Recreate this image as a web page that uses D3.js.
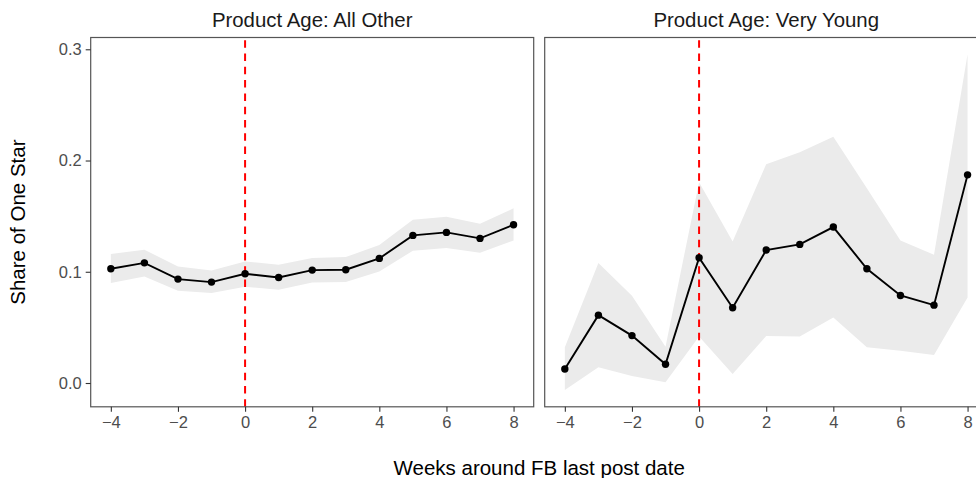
<!DOCTYPE html>
<html>
<head>
<meta charset="utf-8">
<script src="https://cdn.jsdelivr.net/npm/d3@7"></script>
<style>
  html, body { margin: 0; padding: 0; background: #fff; }
  svg { display: block; font-family: "Liberation Sans", Arial, Helvetica, sans-serif; }
</style>
</head>
<body>
<svg id="chart" width="976" height="478"></svg>
<script>
// Weeks relative to the last Facebook post
const weeks = [-4, -3, -2, -1, 0, 1, 2, 3, 4, 5, 6, 7, 8];

// Product Age: All Other
const otherMean  = [0.1027, 0.1080, 0.0934, 0.0907, 0.0982, 0.0949, 0.1015, 0.1018, 0.1120, 0.1327, 0.1354, 0.1300, 0.1423];
const otherLower = [0.0898, 0.0958, 0.0829, 0.0808, 0.0865, 0.0838, 0.0904, 0.0907, 0.1003, 0.1189, 0.1213, 0.1171, 0.1282];
const otherUpper = [0.1160, 0.1198, 0.1048, 0.1012, 0.1093, 0.1063, 0.1123, 0.1132, 0.1240, 0.1468, 0.1495, 0.1432, 0.1570];

// Product Age: Very Young
const youngMean  = [0.0126, 0.0610, 0.0426, 0.0168, 0.1126, 0.0676, 0.1195, 0.1246, 0.1402, 0.1027, 0.0787, 0.0700, 0.1871];
const youngLower = [-0.0063, 0.0141, 0.0063, 0.0006, 0.0417, 0.0081, 0.0423, 0.0417, 0.0588, 0.0321, 0.0291, 0.0252, 0.0769];
const youngUpper = [0.0321, 0.1078, 0.0784, 0.0327, 0.1805, 0.1273, 0.1967, 0.2075, 0.2213, 0.1750, 0.1282, 0.1153, 0.2955];

const panelTitles = ["Product Age: All Other", "Product Age: Very Young"];
const xTicks = [-4, -2, 0, 2, 4, 6, 8];
const yTicks = [0.0, 0.1, 0.2, 0.3];
const eventWeek = 0;

const panels = [
  { title: panelTitles[0], mean: otherMean, lower: otherLower, upper: otherUpper },
  { title: panelTitles[1], mean: youngMean, lower: youngLower, upper: youngUpper }
];

const svg = d3.select("#chart");

// layout
const panelW = 443, gap = 11;
const panelLeft = 90.7, panelTop = 37.5, panelBottom = 406.8;
const fontFamily = '"Liberation Sans", Arial, Helvetica, sans-serif';

// shared scales with 5% expansion of the data range
const allY = [].concat(otherLower, otherUpper, youngLower, youngUpper, otherMean, youngMean);
const yMin = d3.min(allY), yMax = d3.max(allY);
const yPad = (yMax - yMin) * 0.05;
const y = d3.scaleLinear().domain([yMin - yPad, yMax + yPad]).range([panelBottom, panelTop]);

const xMin = d3.min(weeks), xMax = d3.max(weeks);
const xPad = (xMax - xMin) * 0.05;

const fmtY = d3.format(".1f");
const fmtX = d => (d < 0 ? "\u2212" + Math.abs(d) : String(d));

panels.forEach((p, i) => {
  const px0 = panelLeft + i * (panelW + gap);
  const px1 = px0 + panelW;
  const x = d3.scaleLinear().domain([xMin - xPad, xMax + xPad]).range([px0, px1]);

  const g = svg.append("g");
  const rows = weeks.map((w, k) => ({ w, m: p.mean[k], lo: p.lower[k], hi: p.upper[k] }));

  // confidence ribbon
  g.append("path")
    .datum(rows)
    .attr("fill", "#EBEBEB")
    .attr("d", d3.area().x(d => x(d.w)).y0(d => y(d.lo)).y1(d => y(d.hi)));

  // event marker
  g.append("line")
    .attr("x1", x(eventWeek)).attr("x2", x(eventWeek))
    .attr("y1", panelBottom).attr("y2", panelTop)
    .attr("stroke", "#FF0000")
    .attr("stroke-width", 2)
    .attr("stroke-dasharray", "7.5,5.8");

  // mean line and points
  g.append("path")
    .datum(rows)
    .attr("fill", "none")
    .attr("stroke", "#000")
    .attr("stroke-width", 1.9)
    .attr("d", d3.line().x(d => x(d.w)).y(d => y(d.m)));

  g.selectAll("circle")
    .data(rows)
    .join("circle")
    .attr("cx", d => x(d.w))
    .attr("cy", d => y(d.m))
    .attr("r", 3.7)
    .attr("fill", "#000");

  // panel border
  g.append("rect")
    .attr("x", px0).attr("y", panelTop)
    .attr("width", panelW).attr("height", panelBottom - panelTop)
    .attr("fill", "none")
    .attr("stroke", "#555")
    .attr("stroke-width", 1.2);

  // x axis
  const xAxis = d3.axisBottom(x).tickValues(xTicks).tickFormat(fmtX).tickSize(5).tickPadding(4);
  const xa = g.append("g").attr("transform", `translate(0,${panelBottom})`).call(xAxis);
  xa.select(".domain").remove();
  xa.selectAll(".tick line").attr("stroke", "#333").attr("stroke-width", 1.1);
  xa.selectAll(".tick text")
    .attr("fill", "#4D4D4D")
    .style("font-size", "16.5px")
    .style("font-family", fontFamily);

  // y axis on the first panel only
  if (i === 0) {
    const yAxis = d3.axisLeft(y).tickValues(yTicks).tickFormat(fmtY).tickSize(5).tickPadding(4);
    const ya = g.append("g").attr("transform", `translate(${px0},0)`).call(yAxis);
    ya.select(".domain").remove();
    ya.selectAll(".tick line").attr("stroke", "#333").attr("stroke-width", 1.1);
    ya.selectAll(".tick text")
      .attr("fill", "#4D4D4D")
      .style("font-size", "16.5px")
      .style("font-family", fontFamily);
  }

  // facet strip title
  svg.append("text")
    .attr("x", (px0 + px1) / 2)
    .attr("y", 27.3)
    .attr("text-anchor", "middle")
    .attr("fill", "#1A1A1A")
    .style("font-size", "20.4px")
    .text(p.title);
});

// axis titles
const plotCenterX = panelLeft + (2 * panelW + gap) / 2;
svg.append("text")
  .attr("x", plotCenterX)
  .attr("y", 475)
  .attr("text-anchor", "middle")
  .attr("fill", "#000")
  .style("font-size", "20.5px")
  .text("Weeks around FB last post date");

svg.append("text")
  .attr("transform", `translate(25.3,${(panelTop + panelBottom) / 2}) rotate(-90)`)
  .attr("text-anchor", "middle")
  .attr("fill", "#000")
  .style("font-size", "20.5px")
  .text("Share of One Star");
</script>
</body>
</html>
